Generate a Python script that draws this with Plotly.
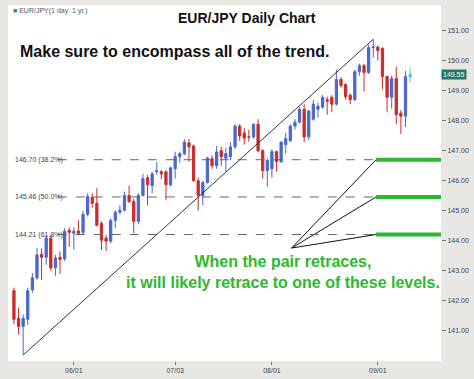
import plotly.graph_objects as go
import pandas as pd

# ---------------- data ----------------
dates = pd.bdate_range("2006-05-15", periods=87)

opens = [142.34, 141.42, 141.15, 141.39, 142.37, 142.77, 143.55, 143.45, 144.09, 143.10,
         143.45, 143.40, 144.35, 144.25, 144.33, 144.28, 144.88, 145.45, 145.25, 144.58,
         144.09, 143.99, 144.68, 144.95, 145.02, 145.51, 145.31, 144.65, 145.51, 146.10,
         145.84, 146.30, 146.30, 146.30, 145.87, 146.40, 146.80, 146.90, 147.26, 147.16,
         146.00, 145.51, 145.94, 146.73, 146.50, 147.00, 146.75, 146.80, 147.13, 147.82,
         147.59, 147.46, 147.46, 147.88, 147.00, 146.34, 146.40, 146.97, 146.63, 147.20,
         147.33, 147.82, 147.95, 148.38, 147.46, 148.05, 148.38, 148.45, 148.70, 148.78,
         148.55, 149.37, 149.20, 148.85, 148.70, 149.63, 149.83, 149.60, 150.43, 150.45,
         150.40, 149.47, 148.78, 149.40, 148.25, 148.15, 149.45]
highs = [142.44, 141.78, 141.55, 142.44, 142.93, 143.76, 143.75, 144.19, 144.19, 143.53,
         143.65, 144.42, 144.45, 144.45, 144.68, 145.00, 145.58, 145.58, 145.75, 144.65,
         144.20, 144.75, 145.02, 145.19, 145.64, 145.84, 145.40, 145.58, 146.23, 146.20,
         146.30, 146.63, 146.35, 146.35, 146.47, 146.97, 146.97, 147.39, 147.39, 147.20,
         146.10, 146.00, 146.80, 146.85, 147.16, 147.13, 147.10, 147.29, 147.88, 147.88,
         147.75, 147.70, 147.90, 148.05, 147.05, 146.75, 147.05, 147.00, 147.30, 147.60,
         147.88, 148.05, 148.45, 148.55, 148.35, 148.70, 148.60, 148.85, 148.80, 148.85,
         149.70, 149.45, 149.25, 148.90, 149.70, 149.90, 149.90, 150.53, 150.71, 150.50,
         150.45, 149.50, 149.50, 149.80, 148.35, 149.65, 149.77]
lows = [141.22, 140.89, 140.20, 141.20, 142.27, 142.70, 142.70, 143.20, 143.00, 142.83,
        142.90, 143.33, 143.80, 143.70, 144.19, 144.20, 144.81, 145.10, 144.48, 143.70,
        143.66, 143.92, 144.42, 144.88, 144.98, 145.25, 144.26, 144.55, 145.48, 145.18,
        145.58, 146.20, 146.05, 145.35, 145.80, 146.07, 146.60, 146.85, 146.63, 145.97,
        145.00, 145.18, 145.90, 146.40, 146.40, 146.50, 146.30, 146.68, 147.05, 147.33,
        147.20, 147.30, 147.40, 146.95, 146.07, 145.80, 146.10, 146.30, 146.60, 146.90,
        147.30, 147.70, 147.90, 147.29, 147.35, 148.00, 148.10, 148.40, 148.20, 148.28,
        148.50, 149.10, 148.70, 148.55, 148.65, 149.50, 148.97, 149.55, 150.10, 150.00,
        149.04, 148.28, 148.40, 147.88, 147.56, 147.79, 149.27]
closes = [141.39, 141.15, 141.42, 142.34, 142.77, 143.53, 143.45, 144.09, 143.10, 143.43,
          143.38, 144.32, 144.28, 144.32, 144.25, 144.88, 145.48, 145.25, 144.52, 144.02,
          143.99, 144.68, 144.95, 145.02, 145.51, 145.31, 144.65, 145.51, 146.07, 145.87,
          146.23, 146.33, 146.23, 145.87, 146.43, 146.80, 146.90, 147.29, 147.13, 146.00,
          145.51, 145.94, 146.76, 146.50, 146.96, 146.80, 146.90, 147.13, 147.82, 147.49,
          147.42, 147.45, 147.88, 147.00, 146.34, 146.67, 146.97, 146.64, 147.29, 147.40,
          147.82, 147.95, 148.38, 147.46, 148.32, 148.55, 148.48, 148.78, 148.65, 148.55,
          149.37, 149.17, 148.80, 148.70, 149.63, 149.83, 149.60, 150.43, 150.45, 150.33,
          149.47, 148.78, 149.40, 148.20, 148.15, 149.47, 149.55]

fib_levels = [146.70, 145.46, 144.21]
fib_labels = ["146.70 (38.2%)", "145.46 (50.0%)", "144.21 (61.8%)"]
trend_low = ("2006-05-17", 140.20)
trend_high = ("2006-08-31", 150.71)
pointer_origin = 143.76
last_price = 149.55

tick_dates = ["2006-06-01", "2006-07-03", "2006-08-01", "2006-09-01"]
tick_text = ["06/01", "07/03", "08/01", "09/01"]
y_ticks = [141, 142, 143, 144, 145, 146, 147, 148, 149, 150, 151]

BLUE = "#4a68cc"
RED = "#cc2a2a"
CYAN = "#5cc8c8"
GREEN = "#2db82d"
FONT = "Liberation Sans, Arial, sans-serif"

n_main = len(opens) - 1

fig = go.Figure()
fig.add_trace(go.Candlestick(
    x=dates[:n_main], open=opens[:n_main], high=highs[:n_main],
    low=lows[:n_main], close=closes[:n_main],
    increasing=dict(line=dict(color=BLUE, width=1), fillcolor=BLUE),
    decreasing=dict(line=dict(color=RED, width=1), fillcolor=RED),
    whiskerwidth=0, showlegend=False, hoverinfo="skip"))
fig.add_trace(go.Candlestick(
    x=dates[n_main:], open=opens[n_main:], high=highs[n_main:],
    low=lows[n_main:], close=closes[n_main:],
    increasing=dict(line=dict(color=CYAN, width=1), fillcolor=CYAN),
    decreasing=dict(line=dict(color=CYAN, width=1), fillcolor=CYAN),
    whiskerwidth=0, showlegend=False, hoverinfo="skip"))

shapes = []
annotations = []
# Fibonacci dashed levels, labels, and green highlights
for lvl, lab in zip(fib_levels, fib_labels):
    shapes.append(dict(type="line", xref="paper", yref="y", x0=0.115, x1=1.0,
                       y0=lvl, y1=lvl, line=dict(color="#666666", width=1, dash="dash")))
    shapes.append(dict(type="line", xref="paper", yref="y", x0=0.85, x1=1.0,
                       y0=lvl, y1=lvl, line=dict(color=GREEN, width=4)))
    shapes.append(dict(type="line", xref="paper", yref="y", x0=0.655, x1=0.85,
                       y0=pointer_origin, y1=lvl, line=dict(color="#111111", width=1)))
    annotations.append(dict(xref="paper", yref="y", x=0.011, y=lvl, text=lab,
                            showarrow=False, xanchor="left", yanchor="middle",
                            font=dict(family=FONT, size=7, color="#444444")))

# trend line
shapes.append(dict(type="line", xref="x", yref="y",
                   x0=trend_low[0], y0=trend_low[1], x1=trend_high[0], y1=trend_high[1],
                   line=dict(color="#333333", width=1)))

annotations += [
    dict(xref="paper", yref="paper", x=0.552, y=0.964, text="<b>EUR/JPY Daily Chart</b>",
         showarrow=False, xanchor="center", yanchor="middle",
         font=dict(family=FONT, size=14, color="#111111")),
    dict(xref="paper", yref="paper", x=0.024, y=0.869,
         text="<b>Make sure to encompass all of the trend.</b>",
         showarrow=False, xanchor="left", yanchor="middle",
         font=dict(family=FONT, size=16, color="#111111")),
    dict(xref="paper", yref="paper", x=0.635, y=0.249,
         text="<b>When the pair retraces,<br>it will likely retrace to one of these levels.</b>",
         showarrow=False, xanchor="center", yanchor="middle", align="center",
         font=dict(family=FONT, size=16, color=GREEN)),
    dict(xref="paper", yref="paper", x=0.006, y=0.984,
         text="<span style='color:#2a9a3a'>■</span> EUR/JPY(1 day  1 yr.)",
         showarrow=False, xanchor="left", yanchor="middle",
         font=dict(family=FONT, size=7, color="#555555")),
    dict(xref="paper", yref="y", x=1.0, y=last_price, text="149.55",
         showarrow=False, xanchor="left", yanchor="middle",
         bgcolor="#1e7a68", borderpad=1,
         font=dict(family=FONT, size=7, color="#ffffff")),
]

fig.update_layout(
    width=474, height=379,
    margin=dict(l=8, r=31, t=5, b=15),
    paper_bgcolor="#e9e7e3", plot_bgcolor="#ffffff",
    shapes=shapes, annotations=annotations,
    showlegend=False,
    xaxis=dict(type="date", rangeslider=dict(visible=False),
               rangebreaks=[dict(bounds=["sat", "mon"])],
               range=["2006-05-11 17:00", "2006-09-20 17:00"],
               tickvals=tick_dates, ticktext=tick_text,
               ticks="outside", ticklen=3, tickcolor="#777777",
               tickfont=dict(family=FONT, size=7, color="#444444"),
               showgrid=False, zeroline=False, showline=False),
    yaxis=dict(side="right", range=[140.0, 151.85], tickvals=y_ticks,
               tickformat=".2f", ticks="outside", ticklen=4, tickcolor="#777777",
               tickfont=dict(family=FONT, size=7, color="#444444"),
               showgrid=False, zeroline=False, showline=False),
)

fig.write_html("out.html", config={"displayModeBar": False},
               post_script="document.body.style.margin='0px';document.body.style.overflow='hidden';")
